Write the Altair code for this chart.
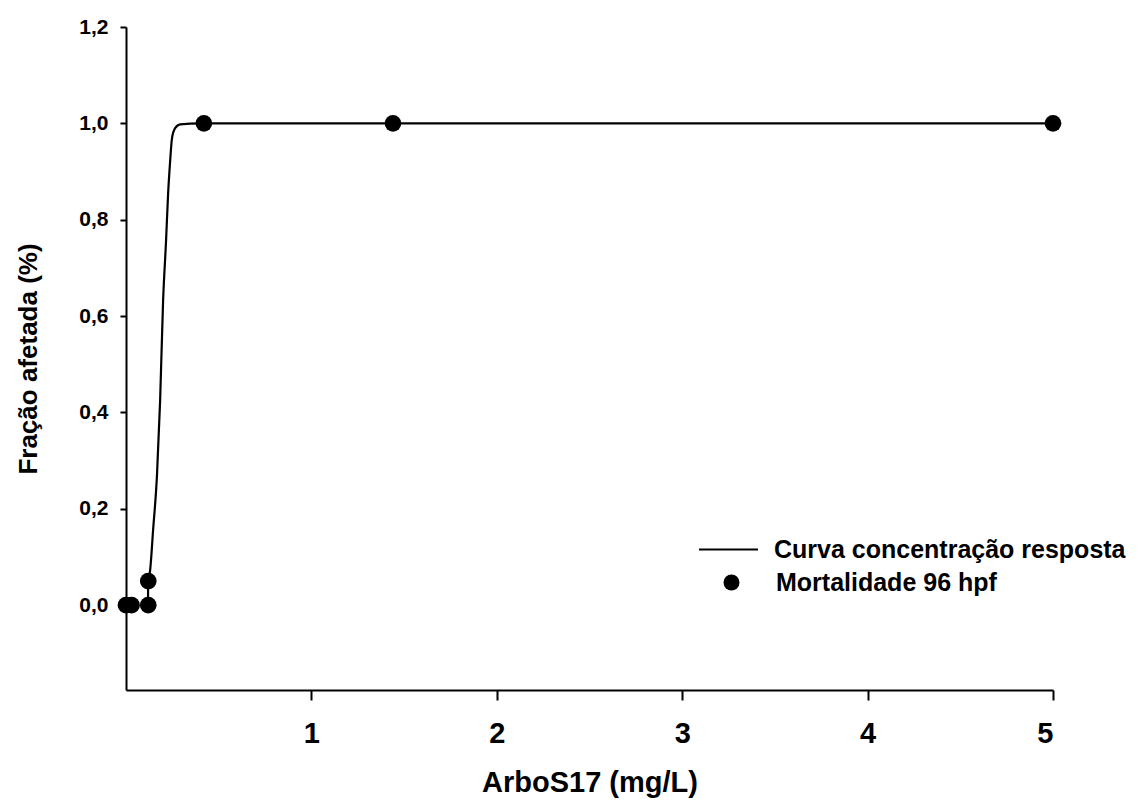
import altair as alt
import pandas as pd

# Observed data points (concentration mg/L, affected fraction)
obs_x = [0.0, 0.03, 0.12, 0.12, 0.42, 1.44, 5.0]
obs_y = [0.0, 0.0, 0.0, 0.05, 1.0, 1.0, 1.0]

# Fitted concentration-response curve
curve_x = [0.119, 0.119, 0.130, 0.146, 0.167, 0.184, 0.200, 0.216, 0.227, 0.238, 0.248, 0.265, 0.292, 0.40, 1.0, 2.0, 3.0, 4.0, 5.0]
curve_y = [0.0, 0.05, 0.072, 0.155, 0.269, 0.424, 0.631, 0.756, 0.853, 0.921, 0.969, 0.990, 0.998, 1.0, 1.0, 1.0, 1.0, 1.0, 1.0]

curve_name = "Curva concentração resposta"
obs_name = "Mortalidade 96 hpf"

x_ticks = [1, 2, 3, 4, 5]
y_ticks = [0.0, 0.2, 0.4, 0.6, 0.8, 1.0, 1.2]

df_obs = pd.DataFrame({"x": obs_x, "y": obs_y, "serie": obs_name})
df_curve = pd.DataFrame({"x": curve_x, "y": curve_y, "serie": curve_name, "ord": list(range(len(curve_x)))})

FONT = "Liberation Sans"

xscale = alt.Scale(domain=[0, 5], nice=False, zero=False)
yscale = alt.Scale(domain=[-0.176, 1.2], nice=False, zero=False)

xaxis = alt.Axis(values=x_ticks, title="ArboS17  (mg/L)", format="d", grid=False,
                 tickSize=10, labelPadding=19, titlePadding=20,
                 labelFontSize=29, titleFontSize=29)
yaxis = alt.Axis(values=y_ticks, title="Fração afetada (%)", grid=False,
                 labelExpr="replace(format(datum.value, '.1f'), '.', ',')",
                 tickSize=6, labelPadding=12, titlePadding=37,
                 labelFontSize=21, titleFontSize=26)

line = alt.Chart(df_curve).mark_line(strokeWidth=2.2, interpolate="monotone").encode(
    x=alt.X("x:Q", scale=xscale, axis=xaxis),
    y=alt.Y("y:Q", scale=yscale, axis=yaxis),
    order="ord:Q",
    color=alt.Color("serie:N", scale=alt.Scale(domain=[curve_name], range=["black"]),
                    legend=alt.Legend(title=None, orient="none", legendX=572, legendY=492,
                                      symbolType="stroke", symbolSize=3481, symbolStrokeWidth=2,
                                      labelFont=FONT, labelFontSize=25, labelFontWeight="bold",
                                      labelColor="black", labelOffset=15, labelLimit=500, padding=0)),
)

points = alt.Chart(df_obs).mark_point(filled=True, size=280, opacity=1, color="black").encode(
    x=alt.X("x:Q", scale=xscale),
    y=alt.Y("y:Q", scale=yscale),
    shape=alt.Shape("serie:N", scale=alt.Scale(domain=[obs_name], range=["circle"]),
                    legend=alt.Legend(title=None, orient="none", legendX=593, legendY=543,
                                      symbolSize=256, symbolFillColor="black", symbolStrokeColor="black",
                                      symbolOpacity=1,
                                      labelFont=FONT, labelFontSize=25, labelFontWeight="bold",
                                      labelColor="black", labelOffset=32, labelLimit=500, padding=0)),
)

chart = alt.layer(line, points).properties(
    width=927, height=663,
    autosize=alt.AutoSizeParams(type="none"),
    padding={"left": 126, "top": 27, "right": 86, "bottom": 113},
    background="white",
).configure_view(stroke=None).configure_axis(
    domainColor="black", domainWidth=2, tickColor="black", tickWidth=2,
    labelFont=FONT, labelFontWeight="bold", labelColor="black",
    titleFont=FONT, titleFontWeight="bold", titleColor="black",
)

chart.save("out.html", embed_options={"renderer": "svg", "actions": False})
